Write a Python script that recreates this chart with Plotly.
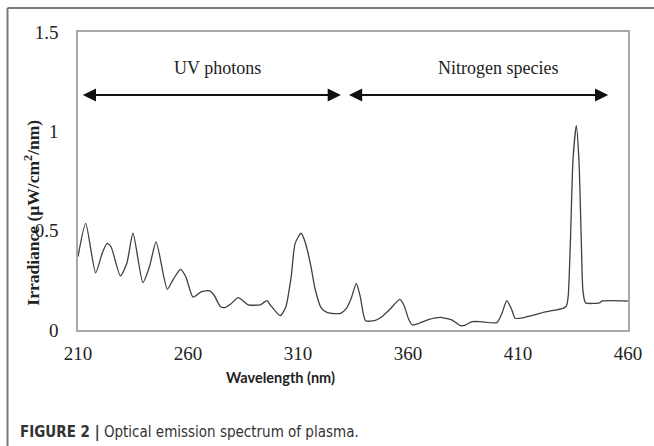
import plotly.graph_objects as go

wavelength = [210, 213.5, 218, 221, 223.2, 225, 229.3, 232.2, 235, 239.5, 242.5, 245.5,
              250.6, 253.3, 256.6, 259, 262.3, 266.1, 269.6, 271.8, 274.8, 277.1, 279.4,
              282.8, 284.6, 287.3, 292.9, 295.9, 297.4, 301.9, 304.4, 306.9, 308.7, 311.4,
              313.2, 315.9, 317.7, 320.4, 323.4, 329.3, 332, 334.2, 336.5, 338.3, 340.7,
              344.8, 347.8, 351.5, 356.3, 358.3, 360.3, 362.1, 365.1, 369.6, 374.9, 378.6,
              380.1, 383.9, 386.1, 389.2, 392.9, 400.4, 402.7, 404.9, 407.2, 408.7, 413.2,
              418.5, 423, 430.5, 432, 432.8, 433.8, 435, 436.5, 437.7, 438.8, 439.5, 440.7,
              447, 448.3, 459.9]
irradiance = [0.369, 0.537, 0.288, 0.386, 0.436, 0.419, 0.272, 0.336, 0.487, 0.238, 0.319, 0.444,
              0.205, 0.255, 0.305, 0.268, 0.165, 0.193, 0.198, 0.176, 0.117, 0.114, 0.131,
              0.163, 0.151, 0.127, 0.127, 0.148, 0.126, 0.072, 0.114, 0.268, 0.436, 0.487,
              0.444, 0.319, 0.210, 0.114, 0.087, 0.084, 0.109, 0.160, 0.235, 0.168, 0.047,
              0.047, 0.064, 0.101, 0.154, 0.121, 0.054, 0.025, 0.034, 0.054, 0.064, 0.055,
              0.050, 0.022, 0.025, 0.042, 0.042, 0.037, 0.084, 0.148, 0.101, 0.059, 0.064,
              0.079, 0.092, 0.109, 0.121, 0.168, 0.436, 0.856, 1.028, 0.856, 0.436, 0.201, 0.137,
              0.137, 0.146, 0.146]

x_ticks = [210, 260, 310, 360, 410, 460]
y_ticks = [0, 0.5, 1, 1.5]
y_tick_text = ["0", "0.5", "1", "1.5"]

region_labels = ["UV photons", "Nitrogen species"]
region_label_x = [273.6, 401.0]
arrow_starts = [211.5, 332.5]
arrow_ends = [329.5, 451]
arrow_y = 1.183
label_y = 1.32

fig = go.Figure()
fig.add_trace(go.Scatter(x=wavelength, y=irradiance, mode="lines",
                         line=dict(color="#404040", width=1.3, shape="spline", smoothing=0.6),
                         hoverinfo="skip", showlegend=False))

serif = "Liberation Serif, Times New Roman, serif"

for s, e in zip(arrow_starts, arrow_ends):
    fig.add_annotation(x=e, y=arrow_y, ax=s, ay=arrow_y, xref="x", yref="y", axref="x", ayref="y",
                       text="", showarrow=True, arrowhead=2, arrowside="end+start",
                       arrowsize=1.2, arrowwidth=2.2, arrowcolor="#111111")
for t, xv in zip(region_labels, region_label_x):
    fig.add_annotation(x=xv, y=label_y, xref="x", yref="y", text=t, showarrow=False,
                       font=dict(family=serif, size=18, color="#222222"))

# axis titles and caption
fig.add_annotation(x=-0.083, y=0.395, xref="paper", yref="paper", textangle=-90,
                   xanchor="center", yanchor="middle",
                   text="<b>Irradiance (µW/cm<sup>2</sup>/nm)</b>", showarrow=False,
                   font=dict(family=serif, size=17.5, color="#222222"))
fig.add_annotation(x=0.369, y=-0.161, xref="paper", yref="paper",
                   xanchor="center", yanchor="middle",
                   text="<b>Wavelength (nm)</b>", showarrow=False,
                   font=dict(family="Lato, Open Sans, sans-serif", size=14.5, color="#222222"))
fig.add_annotation(x=-0.109, y=-0.343, xref="paper", yref="paper", xanchor="left", yanchor="middle",
                   text="<b>FIGURE 2 |</b> Optical emission spectrum of plasma.", showarrow=False,
                   font=dict(family="DejaVu Sans Condensed, Liberation Sans Narrow, Roboto, sans-serif",
                             size=15, color="#333333"))

# outer figure frame
fig.add_shape(type="line", xref="paper", yref="paper", x0=-0.1282, x1=1.05, y0=1.0805, y1=1.0805,
              line=dict(color="#7a7a7a", width=2))
fig.add_shape(type="line", xref="paper", yref="paper", x0=-0.1282, x1=-0.1282, y0=1.0805, y1=-0.4,
              line=dict(color="#7a7a7a", width=2))

fig.update_layout(
    width=654, height=446,
    margin=dict(l=78, r=22, t=32, b=116),
    paper_bgcolor="white", plot_bgcolor="white",
    xaxis=dict(range=[210, 460], tickvals=x_ticks, ticktext=[str(v) for v in x_ticks],
               showgrid=False, zeroline=False, showline=True, linecolor="#a8a8a8", linewidth=1.5,
               mirror=True, ticks="outside", ticklen=5, tickcolor="rgba(0,0,0,0)",
               tickfont=dict(family=serif, size=19, color="#222222")),
    yaxis=dict(range=[0, 1.5], tickvals=y_ticks, ticktext=y_tick_text,
               showgrid=False, zeroline=False, showline=True, linecolor="#a8a8a8", linewidth=1.5,
               mirror=True, ticks="outside", ticklen=14, tickcolor="rgba(0,0,0,0)",
               tickfont=dict(family=serif, size=19, color="#222222")),
)

fig.write_html("out.html")
